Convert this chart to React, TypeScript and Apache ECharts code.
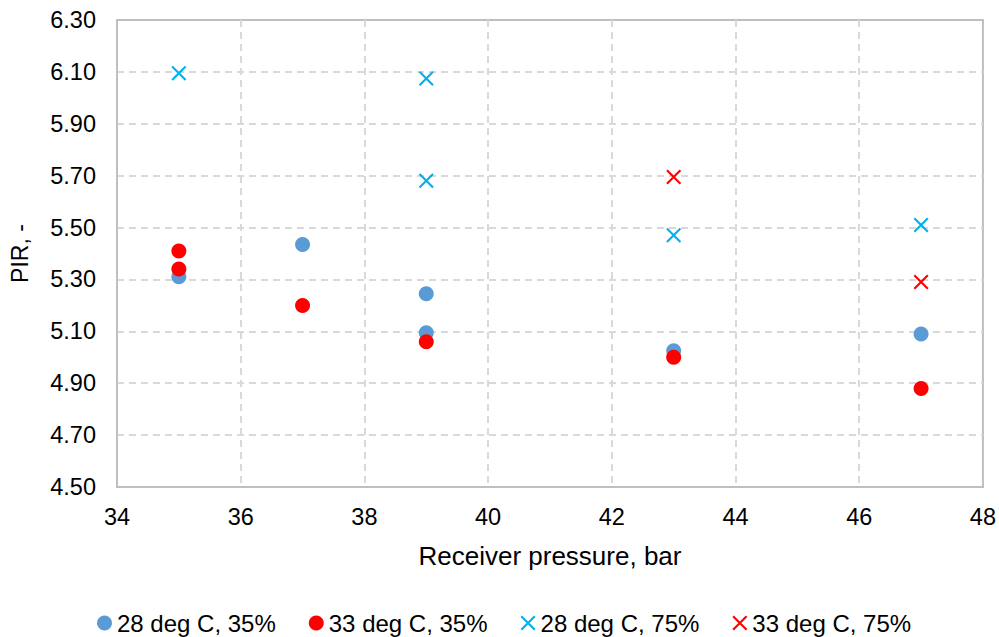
import React, { useEffect, useRef } from "react";
import * as echarts from "echarts";

// ---- data ----
const seriesNames = ["28 deg C, 35%", "33 deg C, 35%", "28 deg C, 75%", "33 deg C, 75%"];
const seriesColors = ["#5B9BD5", "#FF0000", "#00B0F0", "#FF0000"];

const s28_35_x = [35, 37, 39, 39, 43, 47];
const s28_35_y = [5.31, 5.435, 5.245, 5.095, 5.025, 5.09];

const s33_35_x = [35, 35, 37, 39, 43, 47];
const s33_35_y = [5.41, 5.34, 5.2, 5.06, 5.0, 4.88];

const s28_75_x = [35, 39, 39, 43, 47];
const s28_75_y = [6.095, 6.075, 5.68, 5.47, 5.51];

const s33_75_x = [43, 47];
const s33_75_y = [5.695, 5.29];

const xAxisMin = 34;
const xAxisMax = 48;
const xAxisStep = 2;
const yAxisMin = 4.5;
const yAxisMax = 6.3;
const yAxisStep = 0.2;

const xTitle = "Receiver pressure, bar";
const yTitle = "PIR, -";

// shift so that tick positions are multiples of the interval (ticks counted from 0)
const Y_SHIFT = 0.1;

const CROSS = "path://M0,10L10,0L100,90L90,100Z M90,0L100,10L10,100L0,90Z";
const FONT = "'Liberation Sans', Arial, sans-serif";

function pts(xs: number[], ys: number[]) {
  return xs.map((x, i) => [x, ys[i] + Y_SHIFT]);
}

export default function App() {
  const ref = useRef<HTMLDivElement>(null);
  useEffect(() => {
    if (!ref.current) return;
    const chart = echarts.init(ref.current, undefined, { renderer: "svg" });
    const dataSets = [
      pts(s28_35_x, s28_35_y),
      pts(s33_35_x, s33_35_y),
      pts(s28_75_x, s28_75_y),
      pts(s33_75_x, s33_75_y),
    ];
    const symbols = ["circle", "circle", CROSS, CROSS];
    chart.setOption({
      animation: false,
      backgroundColor: "#FFFFFF",
      textStyle: { fontFamily: FONT },
      grid: {
        left: 113,
        right: 15,
        top: 20,
        bottom: 150,
        show: true,
        borderColor: "#BFBFBF",
        borderWidth: 2,
        containLabel: false,
      },
      xAxis: {
        type: "value",
        min: xAxisMin,
        max: xAxisMax,
        interval: xAxisStep,
        name: xTitle,
        nameLocation: "middle",
        nameGap: 56,
        nameTextStyle: { fontSize: 26, color: "#000", fontFamily: FONT },
        axisLine: { show: true, lineStyle: { color: "#BFBFBF", width: 2 } },
        axisTick: { show: false },
        axisLabel: { fontSize: 23.5, color: "#000", margin: 18, fontFamily: FONT },
        splitLine: {
          show: true,
          showMinLine: false,
          showMaxLine: false,
          lineStyle: { color: "#D9D9D9", width: 2, type: [7, 5] },
        },
      },
      yAxis: {
        type: "value",
        min: yAxisMin + Y_SHIFT,
        max: yAxisMax + Y_SHIFT,
        interval: yAxisStep,
        name: yTitle,
        nameLocation: "middle",
        nameGap: 86,
        nameTextStyle: { fontSize: 23, color: "#000", fontFamily: FONT },
        axisLine: { show: true, lineStyle: { color: "#BFBFBF", width: 2 } },
        axisTick: { show: false },
        axisLabel: {
          fontSize: 23.5,
          color: "#000",
          margin: 21,
          fontFamily: FONT,
          formatter: (v: number) => (v - Y_SHIFT).toFixed(2),
        },
        splitLine: {
          show: true,
          showMinLine: false,
          showMaxLine: false,
          lineStyle: { color: "#D9D9D9", width: 2, type: [7, 5] },
        },
      },
      legend: {
        left: 97,
        top: 611,
        padding: 0,
        itemWidth: 15,
        itemHeight: 15,
        itemGap: 33,
        textStyle: { fontSize: 24, color: "#000", fontFamily: FONT },
        data: seriesNames.map((n, i) => ({ name: n, icon: symbols[i] })),
      },
      series: seriesNames.map((n, i) => ({
        name: n,
        type: "scatter",
        symbol: symbols[i],
        symbolSize: 15,
        itemStyle: { color: seriesColors[i], opacity: 1 },
        data: dataSets[i],
        z: 2 + i,
      })),
    });
    return () => chart.dispose();
  }, []);
  return (
    <div
      ref={ref}
      style={{ position: "fixed", left: 0, top: 0, width: 999, height: 637 }}
    />
  );
}
